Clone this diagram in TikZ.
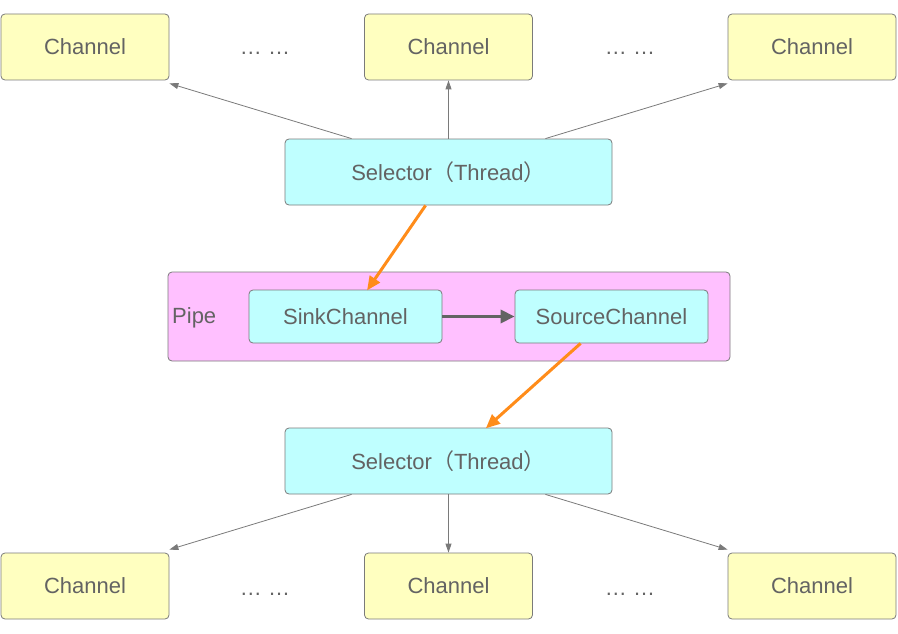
\documentclass[tikz,border=0pt]{standalone}
\usepackage{fontspec}
\setmainfont{Liberation Sans}
\newfontfamily\cjk{Noto Sans CJK SC}
\usetikzlibrary{arrows.meta}
\definecolor{txt}{HTML}{636363}
\definecolor{bord}{HTML}{7A7A7A}
\definecolor{yel}{HTML}{FFFFC0}
\definecolor{cya}{HTML}{BFFFFF}
\definecolor{pnk}{HTML}{FFC0FF}
\definecolor{org}{HTML}{FF8C1A}
\tikzset{
  box/.style={draw=bord, line width=0.8pt, rounded corners=4pt, text=txt, font=\fontsize{22}{26}\selectfont, inner sep=0pt},
  chan/.style={box, fill=yel, minimum width=168pt, minimum height=66pt},
  sel/.style={box, fill=cya, minimum width=327pt, minimum height=66pt},
  pch/.style={box, fill=cya, minimum width=193pt, minimum height=53pt},
  pipebox/.style={box, fill=pnk, minimum width=562pt, minimum height=89pt},
  dotstxt/.style={text=txt, font=\fontsize{22}{26}\selectfont, inner sep=0pt},
  thin/.style={draw=bord, line width=0.8pt, -{Triangle[length=9pt,width=6pt]}},
  orng/.style={draw=org, line width=3pt, -{Triangle[length=14pt,width=12pt]}, shorten >=-1pt},
  thick/.style={draw=txt, line width=3.5pt, -{Triangle[length=14pt,width=13pt]}}
}
\begin{document}
\begin{tikzpicture}[x=1pt,y=-1pt]
\useasboundingbox (0,0) rectangle (898,634);
% top channels
\node[chan] (c1) at (85,47) {Channel};
\node[chan] (c2) at (448.5,47) {Channel};
\node[chan] (c3) at (812,47) {Channel};
\node[dotstxt, anchor=base] (d1) at (265,55) {\dots\ \dots};
\node[dotstxt, anchor=base] (d2) at (630,55) {\dots\ \dots};
% selector top
\node[sel] (s1) at (448.5,172) {Selector{\cjk（}Thread{\cjk）}};
% pipe
\node[pipebox] (pipe) at (449,316.5) {};
\node[dotstxt, anchor=west] (pl) at (172,318) {Pipe};
\node[pch] (sink) at (345.5,316.5) {SinkChannel};
\node[pch] (src) at (611.5,316.5) {SourceChannel};
% selector bottom
\node[sel] (s2) at (448.5,461) {Selector{\cjk（}Thread{\cjk）}};
% bottom channels
\node[chan] (b1) at (85,586) {Channel};
\node[chan] (b2) at (448.5,586) {Channel};
\node[chan] (b3) at (812,586) {Channel};
\node[dotstxt, anchor=base] (d3) at (265,595) {\dots\ \dots};
\node[dotstxt, anchor=base] (d4) at (630,595) {\dots\ \dots};
% top arrows
\draw[thin] ([xshift=67pt]s1.north west) -- ([yshift=-3pt]c1.south east);
\draw[thin] (s1.north) -- (c2.south);
\draw[thin] ([xshift=-67pt]s1.north east) -- ([yshift=-3pt]c3.south west);
% orange
\draw[orng] ([xshift=141pt]s1.south west) -- ([xshift=119pt]sink.north west);
\draw[thick] (sink.east) -- (src.west);
\draw[orng] ([xshift=66pt]src.south west) -- ([xshift=202pt]s2.north west);
% bottom arrows
\draw[thin] ([xshift=67pt]s2.south west) -- ([yshift=3pt]b1.north east);
\draw[thin] (s2.south) -- (b2.north);
\draw[thin] ([xshift=-67pt]s2.south east) -- ([yshift=3pt]b3.north west);
\end{tikzpicture}
\end{document}
